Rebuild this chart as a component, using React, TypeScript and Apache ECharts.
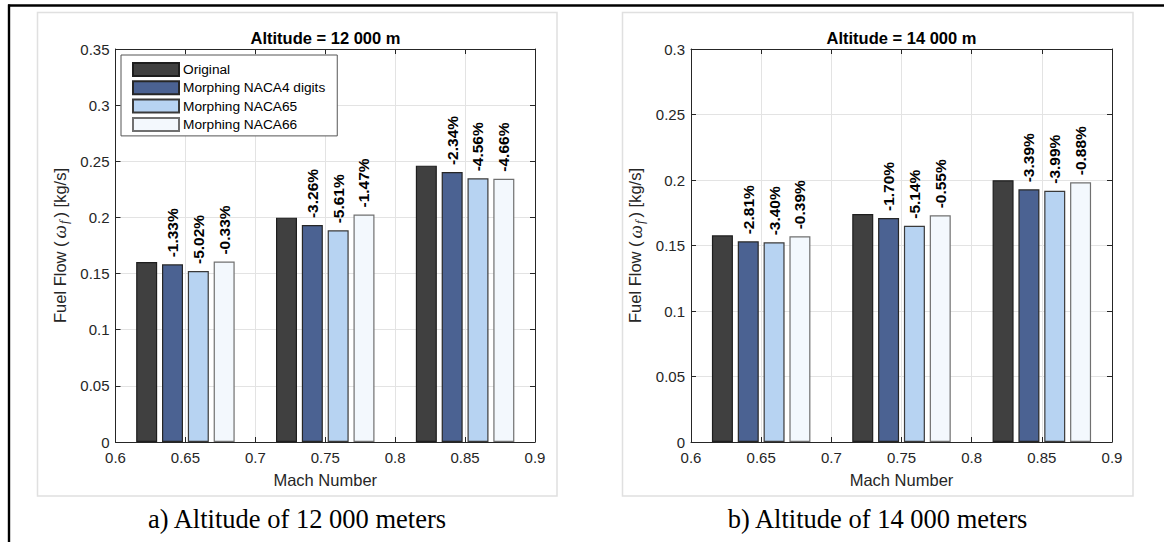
import React, { useEffect, useRef } from "react";
import * as echarts from "echarts";

const machNumbers = [0.65, 0.75, 0.85];
const seriesNames = ["Original", "Morphing NACA4 digits", "Morphing NACA65", "Morphing NACA66"];

const alt12Original = [0.1603, 0.1998, 0.2461];
const alt12Naca4 = [0.1582, 0.1932, 0.2404];
const alt12Naca65 = [0.1523, 0.1885, 0.2348];
const alt12Naca66 = [0.1607, 0.2026, 0.2345];
const alt12Naca4Labels = ["-1.33%", "-3.26%", "-2.34%"];
const alt12Naca65Labels = ["-5.02%", "-5.61%", "-4.56%"];
const alt12Naca66Labels = ["-0.33%", "-1.47%", "-4.66%"];

const alt14Original = [0.1578, 0.174, 0.1998];
const alt14Naca4 = [0.1532, 0.171, 0.1929];
const alt14Naca65 = [0.1524, 0.1651, 0.1918];
const alt14Naca66 = [0.157, 0.173, 0.1983];
const alt14Naca4Labels = ["-2.81%", "-1.70%", "-3.39%"];
const alt14Naca65Labels = ["-3.40%", "-5.14%", "-3.99%"];
const alt14Naca66Labels = ["-0.39%", "-0.55%", "-0.88%"];

const xTickLabels = ["0.6", "0.65", "0.7", "0.75", "0.8", "0.85", "0.9"];
const yTickLabels12 = ["0", "0.05", "0.1", "0.15", "0.2", "0.25", "0.3", "0.35"];
const yTickLabels14 = ["0", "0.05", "0.1", "0.15", "0.2", "0.25", "0.3"];

const titles = ["Altitude = 12 000 m", "Altitude = 14 000 m"];
const captions = ["a) Altitude of 12 000 meters", "b) Altitude of 14 000 meters"];

const FONT = '"Liberation Sans", Arial, Helvetica, sans-serif';
const SERIF = '"Liberation Serif", "Times New Roman", serif';
const AX = "#262626";
const colors = ["#404040", "#4b6292", "#b7d3f2", "#f3f8fd"];
const borders = ["#1e1e1e", "#262626", "#3a3a3a", "#707070"];

function xAxes(g: number) {
  const common = {
    type: "value",
    gridIndex: g,
    min: 0.6,
    max: 0.9,
    interval: 0.05,
  };
  return [
    {
      ...common,
      position: "bottom",
      axisLine: { show: true, onZero: false, lineStyle: { color: AX, width: 1 } },
      axisTick: { show: true, inside: true, length: 5, lineStyle: { color: AX } },
      axisLabel: {
        margin: 8,
        color: AX,
        fontSize: 15,
        fontFamily: FONT,
        formatter: (v: number) => xTickLabels[Math.round((v - 0.6) / 0.05)] ?? "",
      },
      splitLine: { show: true, lineStyle: { color: "#e3e3e3", width: 1 } },
      name: "Mach Number",
      nameLocation: "middle",
      nameGap: 29,
      nameTextStyle: { fontSize: 16.5, color: AX, fontFamily: FONT },
    },
    {
      ...common,
      position: "top",
      axisLine: { show: true, onZero: false, lineStyle: { color: AX, width: 1 } },
      axisTick: { show: true, inside: true, length: 5, lineStyle: { color: AX } },
      axisLabel: { show: false },
      splitLine: { show: false },
    },
  ];
}

function yAxes(g: number, max: number, labels: string[]) {
  const common = { type: "value", gridIndex: g, min: 0, max, interval: 0.05 };
  return [
    {
      ...common,
      position: "left",
      axisLine: { show: true, onZero: false, lineStyle: { color: AX, width: 1 } },
      axisTick: { show: true, inside: true, length: 5, lineStyle: { color: AX } },
      axisLabel: {
        margin: 6,
        color: AX,
        fontSize: 15,
        fontFamily: FONT,
        formatter: (v: number) => labels[Math.round(v / 0.05)] ?? "",
      },
      splitLine: { show: true, lineStyle: { color: "#e3e3e3", width: 1 } },
      name: "{n|Fuel Flow (}{w|ω}{s|f}{n|) [kg/s]}",
      nameLocation: "middle",
      nameGap: 45,
      nameTextStyle: {
        color: AX,
        fontFamily: FONT,
        fontSize: 16.5,
        rich: {
          n: { fontSize: 16.5, fontFamily: FONT, color: AX, lineHeight: 22, verticalAlign: "middle" },
          w: {
            fontSize: 19,
            fontFamily: SERIF,
            color: AX,
            fontStyle: "italic",
            lineHeight: 22,
            verticalAlign: "middle",
            padding: [0, 0, 0, 3],
          },
          s: {
            fontSize: 12.5,
            fontFamily: SERIF,
            color: AX,
            fontStyle: "italic",
            lineHeight: 13,
            verticalAlign: "bottom",
            padding: [0, 3, 0, 1],
          },
        },
      },
    },
    {
      ...common,
      position: "right",
      axisLine: { show: true, onZero: false, lineStyle: { color: AX, width: 1 } },
      axisTick: { show: true, inside: true, length: 5, lineStyle: { color: AX } },
      axisLabel: { show: false },
      splitLine: { show: false },
    },
  ];
}

function barSeries(axisIndex: number, values: number[][], labels: (string[] | null)[]) {
  return values.map((vals, k) => ({
    type: "bar",
    name: seriesNames[k],
    xAxisIndex: axisIndex,
    yAxisIndex: axisIndex,
    data: machNumbers.map((m, i) => [m, vals[i]]),
    barWidth: 21,
    barGap: "23%",
    itemStyle: { color: colors[k], borderColor: borders[k], borderWidth: 1.2 },
    label: labels[k]
      ? {
          show: true,
          position: "top",
          rotate: 90,
          align: "left",
          verticalAlign: "middle",
          distance: 7,
          fontSize: 15.5,
          fontWeight: "bold",
          color: "#000",
          fontFamily: FONT,
          formatter: (p: any) => (labels[k] as string[])[p.dataIndex],
        }
      : { show: false },
  }));
}

function text(x: number, y: number, t: string, font: string) {
  return {
    type: "text",
    x,
    y,
    silent: true,
    style: {
      text: t,
      font,
      fill: "#000",
      textAlign: "center",
      textVerticalAlign: "middle",
      align: "center",
      verticalAlign: "middle",
    },
  };
}

export default function App() {
  const ref = useRef<HTMLDivElement>(null);
  useEffect(() => {
    if (!ref.current) return;
    const chart = echarts.init(ref.current, null, { renderer: "svg" });
    const option: any = {
      animation: false,
      backgroundColor: "#fff",
      grid: [
        { left: 115.5, top: 49, width: 419.5, height: 393 },
        { left: 691, top: 49, width: 421, height: 393 },
      ],
      xAxis: [...xAxes(0), ...xAxes(1)],
      yAxis: [...yAxes(0, 0.35, yTickLabels12), ...yAxes(1, 0.3, yTickLabels14)],
      legend: {
        left: 121,
        top: 55,
        orient: "vertical",
        data: seriesNames,
        icon: "rect",
        itemWidth: 46,
        itemHeight: 13,
        itemGap: 3.3,
        padding: [7, 12, 4, 11],
        backgroundColor: "#fff",
        borderColor: "#555",
        borderWidth: 1,
        selectedMode: false,
        textStyle: { fontSize: 13.7, color: "#000", fontFamily: FONT, padding: [0, 0, 0, -1] },
      },
      series: [
        ...barSeries(0, [alt12Original, alt12Naca4, alt12Naca65, alt12Naca66], [
          null,
          alt12Naca4Labels,
          alt12Naca65Labels,
          alt12Naca66Labels,
        ]),
        ...barSeries(2, [alt14Original, alt14Naca4, alt14Naca65, alt14Naca66], [
          null,
          alt14Naca4Labels,
          alt14Naca65Labels,
          alt14Naca66Labels,
        ]),
      ],
      graphic: [
        {
          type: "rect",
          silent: true,
          z: -1,
          shape: { x: 37.5, y: 12.5, width: 519.5, height: 483.5 },
          style: { fill: "transparent", stroke: "#e0e0e0", lineWidth: 1.5 },
        },
        {
          type: "rect",
          silent: true,
          z: -1,
          shape: { x: 622.5, y: 12.5, width: 510.5, height: 483.5 },
          style: { fill: "transparent", stroke: "#e0e0e0", lineWidth: 1.5 },
        },
        {
          type: "line",
          silent: true,
          shape: { x1: 8, y1: 5.5, x2: 1164, y2: 5.5 },
          style: { stroke: "#000", lineWidth: 2.4 },
        },
        {
          type: "line",
          silent: true,
          shape: { x1: 9, y1: 4.5, x2: 9, y2: 542 },
          style: { stroke: "#000", lineWidth: 2.4 },
        },
        text(325.5, 38, titles[0], `bold 16.5px ${FONT}`),
        text(901.5, 38, titles[1], `bold 16.5px ${FONT}`),
        text(297, 519, captions[0], `26.5px ${SERIF}`),
        text(877.5, 519, captions[1], `26.5px ${SERIF}`),
      ],
    };
    chart.setOption(option);
    return () => chart.dispose();
  }, []);
  return (
    <div
      ref={ref}
      style={{ position: "fixed", left: 0, top: 0, width: 1164, height: 542, background: "#fff" }}
    />
  );
}
